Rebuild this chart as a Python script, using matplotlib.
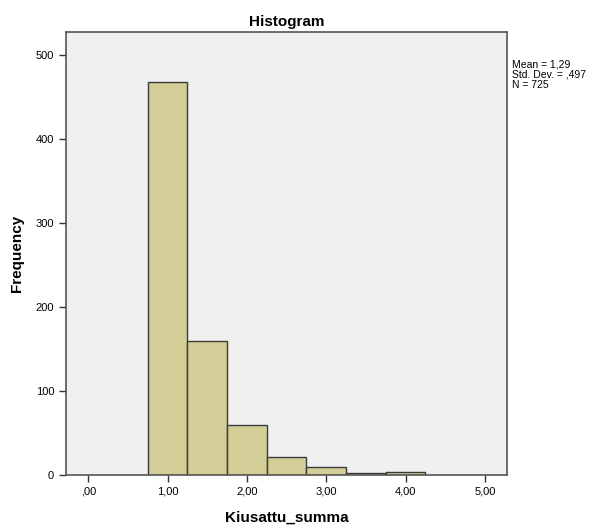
import matplotlib
matplotlib.use('Agg')
from matplotlib import pyplot as plt

plt.rcParams['font.family'] = ['Liberation Sans', 'DejaVu Sans']

bin_left = [0.75, 1.25, 1.75, 2.25, 2.75, 3.25, 3.75]
counts = [468, 159, 60, 22, 9, 3, 4]
bin_width = 0.5
x_ticks = [0, 1, 2, 3, 4, 5]
x_labels = [',00', '1,00', '2,00', '3,00', '4,00', '5,00']
y_ticks = [0, 100, 200, 300, 400, 500]

fig = plt.figure(figsize=(6.06, 5.29), dpi=100)
ax = fig.add_axes([0.109, 0.102, 0.728, 0.8375])
ax.set_facecolor('#f0f0f0')

ax.bar(bin_left, counts, width=bin_width, align='edge',
       color='#d3ce97', edgecolor='#3a3a3a', linewidth=1.0)

ax.set_xlim(-0.28, 5.28)
ax.set_ylim(0, 527)
ax.set_xticks(x_ticks)
ax.set_xticklabels(x_labels)
ax.set_yticks(y_ticks)
ax.tick_params(axis='both', labelsize=8, length=5, width=1, color='#333333', direction='out')
for side in ax.spines.values():
    side.set_color('#555555')
    side.set_linewidth(1.2)

ax.set_title('Histogram', fontsize=11, fontweight='bold', pad=4)
ax.set_xlabel('Kiusattu_summa', fontsize=11, fontweight='bold', labelpad=10)
ax.set_ylabel('Frequency', fontsize=11, fontweight='bold')
ax.yaxis.set_label_coords(-0.095, 0.5)

fig.text(0.845, 0.888, 'Mean = 1,29\nStd. Dev. = ,497\nN = 725',
         fontsize=7.5, va='top', ha='left', linespacing=1.05)

plt.savefig('out.png')
